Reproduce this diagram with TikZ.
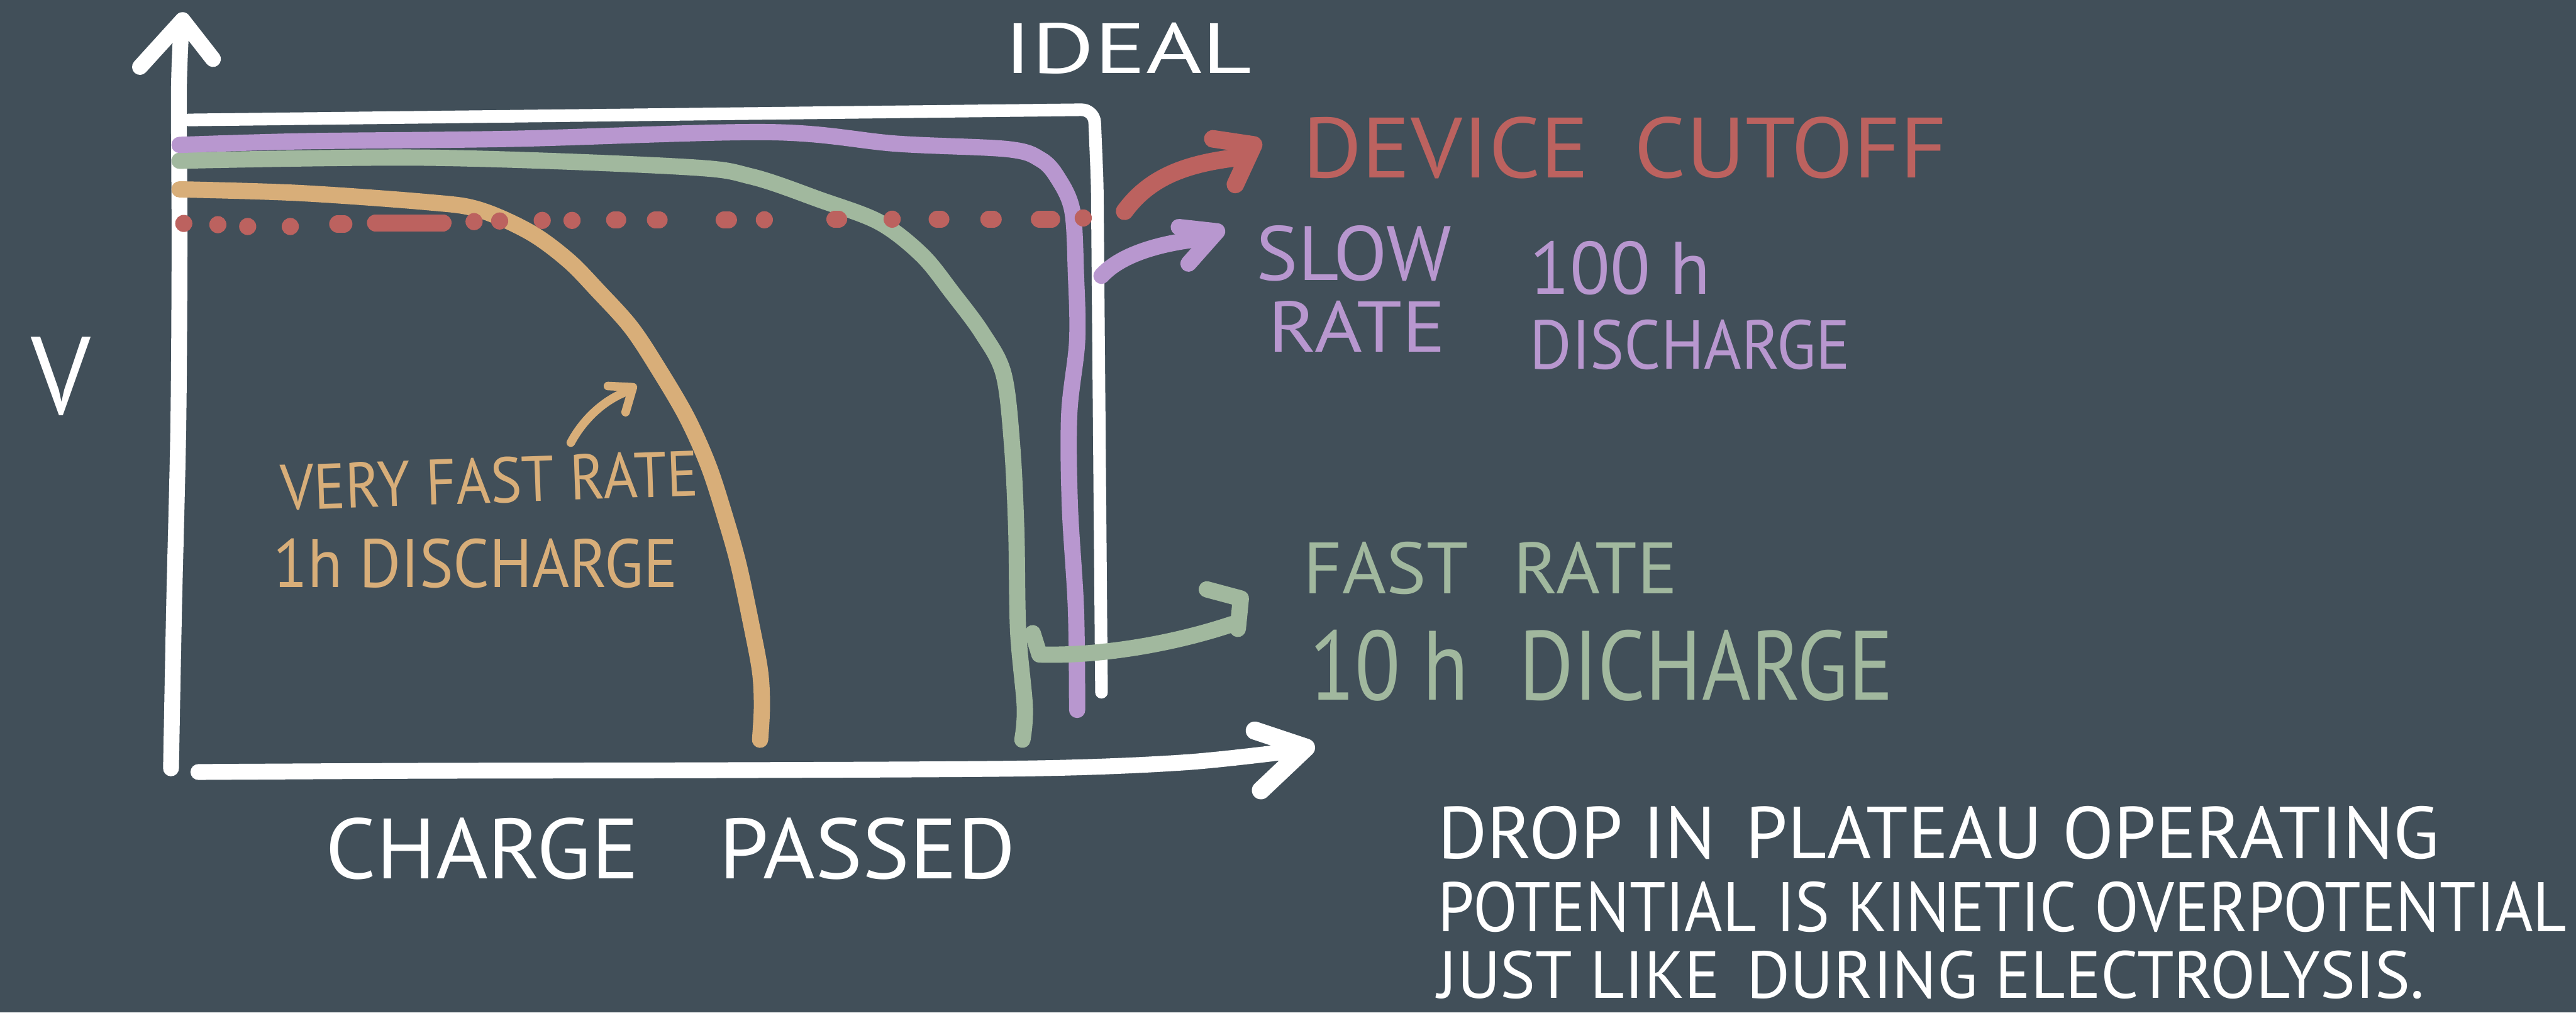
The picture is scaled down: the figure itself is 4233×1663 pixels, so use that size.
\documentclass[tikz,border=0pt]{standalone}
\usepackage{fontspec}
\setmainfont{PT Sans}
\usepackage{graphicx}
\definecolor{board}{HTML}{414F59}
\definecolor{chalk}{HTML}{FFFFFF}
\definecolor{slowc}{HTML}{B897CF}
\definecolor{fastc}{HTML}{A1B89E}
\definecolor{vfastc}{HTML}{D8AE79}
\definecolor{cutc}{HTML}{BC625F}
\newlength\pxu
\setlength\pxu{0.01cm}
% hand lettering: text squeezed into a box of given width and cap height (in px units)
\newcommand\handtext[3]{\resizebox{#1\pxu}{#2\pxu}{#3}}
\tikzset{
  stroke/.style={line cap=round, line join=round},
  axisline/.style={stroke, chalk, line width=7.4pt},
  rate/.style={stroke, line width=7.6pt},
  pointer/.style={stroke, line width=7.6pt},
  lbl/.style={inner sep=0pt, anchor=base west},
}
\begin{document}
\begin{tikzpicture}[x=0.01cm, y=-0.01cm]
\fill[board] (0,0) rectangle (4233,1663);
\useasboundingbox (0,0) rectangle (4233,1663);

% ideal discharge box
\draw[stroke, chalk, line width=5.9pt, rounded corners=6pt]
  (310,197) -- (1798,180) -- (1803,300) -- (1810,1137);

% axes
\draw[axisline] plot[smooth] coordinates {(281,1262) (286,1000) (293,700) (295,400) (294,150) (298,45)};
\draw[axisline] (230,110) -- (300,33) -- (350,97);
\draw[axisline] plot[smooth] coordinates {(326,1268) (700,1266) (1200,1265) (1700,1262) (1950,1252) (2135,1232)};
\draw[axisline, line width=8.5pt] (2062,1200) -- (2146,1228) -- (2072,1298);

% very fast rate (1 h)
\draw[rate, vfastc] plot[smooth, tension=0.55] coordinates {
  (295,311) (491,317) (702,332) (786,344) (870,381) (933,427) (982,477)
  (1038,539) (1087,614) (1130,688) (1165,767) (1193,854) (1214,929)
  (1235,1028) (1249,1103) (1252,1160) (1249,1215)};
% fast rate (10 h)
\draw[rate, fastc] plot[smooth, tension=0.55] coordinates {
  (295,264) (702,259) (1122,274) (1235,290) (1347,328) (1445,365)
  (1515,419) (1565,481) (1614,547) (1649,614) (1663,730) (1670,871)
  (1673,1036) (1684,1161) (1680,1215)};
% slow rate (100 h)
\draw[rate, slowc] plot[smooth, tension=0.55] coordinates {
  (295,238) (500,232) (842,228) (1263,217) (1473,236) (1656,245)
  (1710,262) (1738,292) (1762,346) (1768,450) (1770,560) (1757,680)
  (1758,830) (1768,1000) (1770,1166)};

% device cutoff level
\foreach \xa/\xb/\yy in {302/302/367, 358/358/369, 407/407/372, 477/477/372,
    555/565/368, 617/728/366, 779/779/364, 821/821/363, 891/891/362,
    940/940/362, 1010/1015/361, 1077/1083/361, 1190/1197/361, 1256/1256/361,
    1372/1378/360, 1466/1466/360, 1540/1546/360, 1625/1632/360,
    1708/1728/360, 1780/1780/358}
  \draw[stroke, cutc, line width=8pt] (\xa,\yy) -- (\xb,\yy);

% labels
\node[lbl, chalk] (ideal) at (1649,120) {\handtext{407}{83}{IDEAL}};
\node[lbl, chalk] (volt) at (50,680) {\handtext{98}{127}{V}};
\node[lbl, chalk] (charge) at (534,1443) {\handtext{1134}{100}{CHARGE\hspace{0.9em}PASSED}};
\node[lbl, cutc] (cutoff) at (2140,292) {\handtext{1059}{100}{DEVICE\hspace{0.5em}CUTOFF}};
\node[lbl, slowc] (slow) at (2064,460) {\handtext{320}{90}{SLOW}};
\node[lbl, slowc] (sloweq) at (2083,578) {\handtext{292}{84}{RATE}};
\node[lbl, slowc] (hundred) at (2513,483) {\handtext{297}{87}{100 h}};
\node[lbl, slowc] (slowdis) at (2513,606) {\handtext{527}{81}{DISCHARGE}};
\node[lbl, fastc] (fast) at (2141,975) {\handtext{615}{85}{FAST\hspace{0.6em}RATE}};
\node[lbl, fastc] (fastdis) at (2151,1150) {\handtext{959}{115}{10 h\hspace{0.6em}DICHARGE}};
\node[lbl, vfastc, rotate=2] (vfast) at (462,838) {\handtext{686}{75}{VERY FAST RATE}};
\node[lbl, vfastc] (vfastdis) at (448,965) {\handtext{665}{80}{1h DISCHARGE}};
\node[lbl, chalk] (note1) at (2362,1410) {\handtext{1646}{86}{DROP IN\hspace{0.4em}PLATEAU OPERATING}};
\node[lbl, chalk] (note2) at (2362,1530) {\handtext{1855}{82}{POTENTIAL\hspace{0.3em}IS KINETIC OVERPOTENTIAL}};
\node[lbl, chalk] (note3) at (2362,1640) {\handtext{1621}{78}{JUST LIKE\hspace{0.4em}DURING ELECTROLYSIS.}};

% pointers from the curves to their labels
\coordinate (cutfrom) at (1848,347);
\coordinate (cutto) at (2040,258);
\coordinate (slowfrom) at (1810,453);
\coordinate (slowto) at (1975,392);
\coordinate (fastfrom) at (1697,1040);
\coordinate (fastto) at (2025,1025);
\coordinate (vfastfrom) at (938,727);
\coordinate (vfastto) at (1025,645);

\draw[stroke, cutc, line width=8.2pt] (cutfrom) .. controls (1890,290) and (1950,268) .. (cutto);
\draw[stroke, cutc, line width=8.2pt] (1993,228) -- (2060,238) -- (2030,303);

\draw[pointer, slowc] (slowfrom) .. controls (1840,420) and (1900,400) .. (slowto);
\draw[pointer, slowc] (1937,373) -- (2000,380) -- (1953,433);

\draw[pointer, fastc] (fastfrom) -- (1708,1075) .. controls (1800,1078) and (1920,1060) .. (fastto);
\draw[pointer, fastc] (1983,968) -- (2039,983) -- (2034,1033);

\draw[stroke, vfastc, line width=4pt] (vfastfrom) .. controls (955,695) and (985,662) .. (vfastto);
\draw[stroke, vfastc, line width=4pt] (999,634) -- (1040,636) -- (1028,677);
\end{tikzpicture}
\end{document}
